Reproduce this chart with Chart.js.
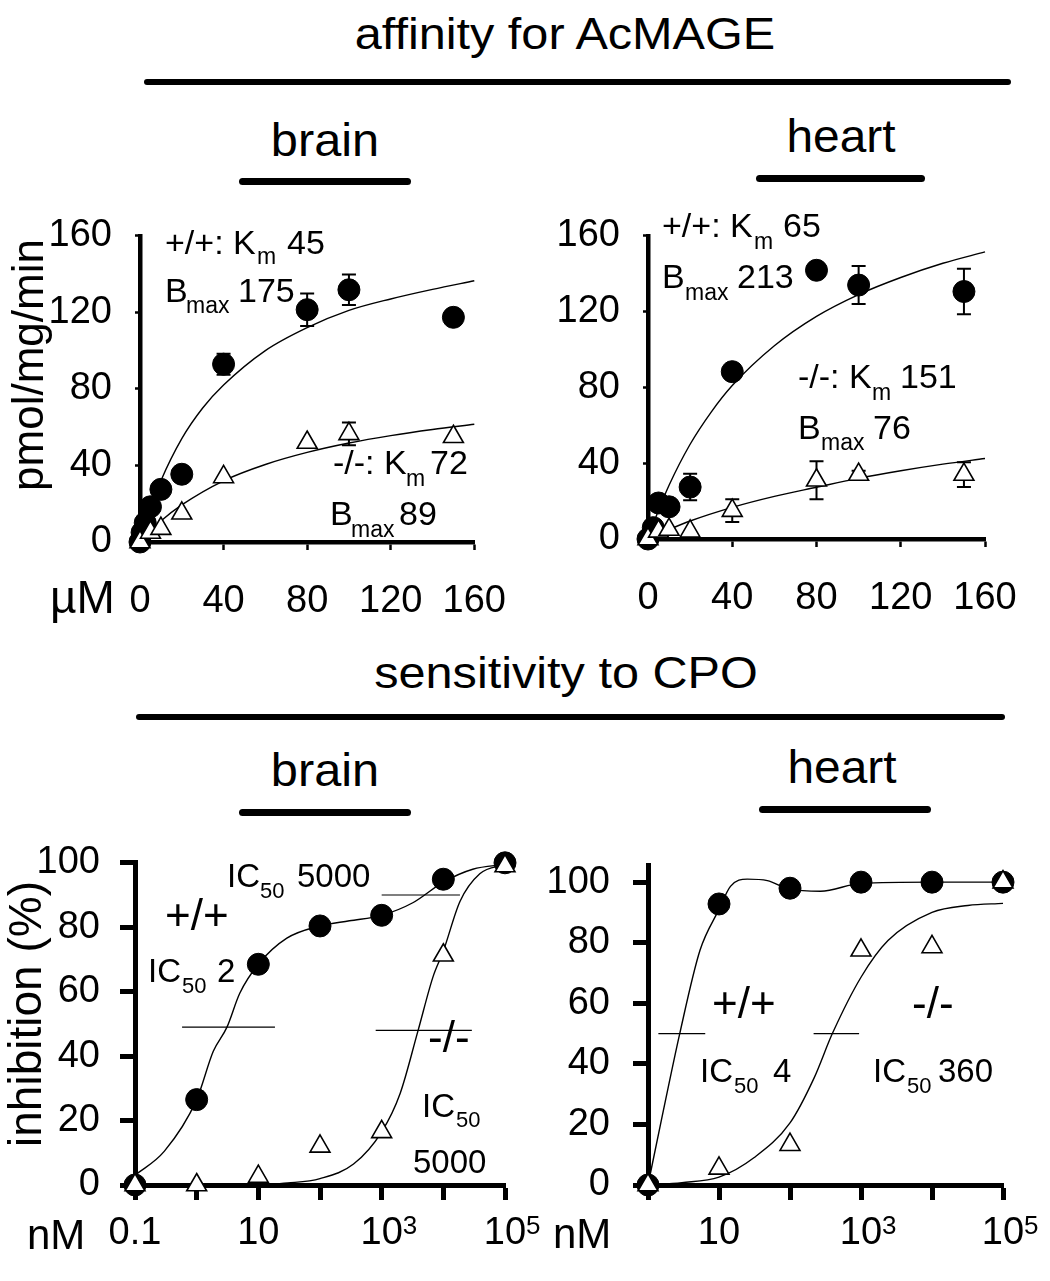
<!DOCTYPE html>
<html><head><meta charset="utf-8">
<script src="https://cdn.jsdelivr.net/npm/chart.js@4.4.1/dist/chart.umd.min.js"></script>
<style>
html,body{margin:0;padding:0;background:#fff;}
body{width:1050px;height:1281px;position:relative;overflow:hidden;font-family:'Liberation Sans',Arial,sans-serif;color:#000}
.h{position:absolute;width:600px;text-align:center;white-space:nowrap;line-height:1;transform-origin:50% 50%;}
.rule{position:absolute;background:#000;border-radius:4px;}
canvas{position:absolute;}
</style></head><body>
<script>
// ================= DATA =================
// axis ticks
const uM_ticks = [0, 40, 80, 120, 160];
const rate_ticks = [0, 40, 80, 120, 160];
const pct_ticks = [0, 20, 40, 60, 80, 100];
const nM_ticks_brain = [0.1, 1, 10, 100, 1000, 10000, 100000];
const nM_labels_brain = ['0.1', '', '10', '', '10', '', '10'];
const nM_sup_brain    = ['', '', '', '', '3', '', '5'];
const nM_ticks_heart = [1, 10, 100, 1000, 10000, 100000];
const nM_labels_heart = ['', '10', '', '10', '', '10'];
const nM_sup_heart    = ['', '', '', '3', '', '5'];

// affinity for AcMAGE - brain (µM, pmol/mg/min)
const brainWT_x   = [0, 1, 2.5, 5, 10, 20, 40, 80, 100, 150];
const brainWT_y   = [0, 5, 10, 18.4, 27.5, 35.4, 92.9, 121.4, 131.8, 117.4];
const brainWT_err = [0, 0, 0, 0, 0, 0, 5.5, 8.5, 8, 0];
const brainKO_x   = [0, 5, 10, 20, 40, 80, 100, 150];
const brainKO_y   = [0, 5, 7, 15, 34, 52, 56.5, 55];
const brainKO_err = [0, 0, 0, 0, 0, 0, 6, 0];
const brainWT_fitX = [0, 2.5, 5, 10, 20, 30, 40, 60, 80, 100, 120, 140, 160];
const brainWT_fitY = [0, 9.2, 17.5, 32, 54, 70, 82, 100, 112, 121, 127, 132, 136.5];
const brainKO_fitX = [0, 5, 10, 20, 40, 60, 80, 100, 120, 140, 160];
const brainKO_fitY = [0, 5.8, 11, 19.4, 32, 40.5, 46.8, 51.7, 55.6, 58.8, 61.5];

// affinity for AcMAGE - heart
const heartWT_x   = [0, 2.5, 5, 10, 20, 40, 80, 100, 150];
const heartWT_y   = [0, 6, 19, 17, 27.4, 88.3, 141.8, 134, 130.6];
const heartWT_err = [0, 0, 0, 0, 7, 0, 0, 10, 12];
const heartKO_x   = [0, 5, 10, 20, 40, 80, 100, 150];
const heartKO_y   = [0, 4, 5, 4, 15, 31, 34, 34];
const heartKO_err = [0, 0, 0, 0, 6, 10, 2, 6.5];
const heartWT_fitX = [0, 2.5, 5, 10, 20, 30, 40, 60, 80, 100, 120, 140, 160];
const heartWT_fitY = [0, 7.9, 15.2, 28.4, 50, 67, 81, 102, 117.5, 129, 138, 145.5, 151.5];
const heartKO_fitX = [0, 10, 20, 40, 60, 80, 100, 120, 140, 160];
const heartKO_fitY = [0, 5, 9.5, 16.7, 22.5, 27.3, 32, 36, 39.5, 42.5];

// sensitivity to CPO - brain (nM, inhibition %)
const cpoBrain_x  = [0.1, 1, 10, 100, 1000, 10000, 100000];
const cpoBrainWT  = [0, 26.5, 68.5, 80.4, 83.7, 94.9, 100];
const cpoBrainKO  = [0, 0, 2.6, 12, 16.5, 71.3, 99];
const cpoBrainWT_fitX = [0.1, 0.3, 1, 1.86, 3.1, 5, 10, 29, 100, 300, 1000, 3200, 10000, 30000, 100000];
const cpoBrainWT_fitY = [3, 10.5, 26.5, 41.5, 49, 59.5, 68.5, 76.6, 80.4, 82, 83.7, 87.6, 94, 98, 99.5];
const cpoBrainKO_fitX = [10, 30, 100, 350, 1000, 2000, 3900, 6800, 10000, 18600, 39000, 100000];
const cpoBrainKO_fitY = [0, 0.6, 2, 6.5, 16.5, 28.5, 48, 64.6, 72.6, 88, 96.6, 99.5];
const cpoBrainIC_WT  = {x: [0.58, 18.6], y: [49, 49]};
const cpoBrainIC_WT2 = {x: [1000, 18600], y: [90, 90]};
const cpoBrainIC_KO  = {x: [800, 29000], y: [48, 48]};

// sensitivity to CPO - heart
const cpoHeart_x  = [1, 10, 100, 1000, 10000, 100000];
const cpoHeartWT  = [0, 92.8, 98, 100, 100, 100];
const cpoHeartKO  = [0, 5.5, 13.3, 77.5, 78.6, 100];
const cpoHeartWT_fitX = [1, 1.5, 2.8, 5.4, 10, 14.5, 25, 48, 100, 270, 1000, 10000, 100000];
const cpoHeartWT_fitY = [0, 20, 50, 77.5, 91, 98.6, 101, 100.5, 97.6, 97, 99.6, 100, 100];
const cpoHeartKO_fitX = [1, 3, 10, 31, 100, 218, 395, 1000, 2400, 10000, 32000, 100000];
const cpoHeartKO_fitY = [0, 0.8, 2.6, 9, 20.5, 35.3, 50, 68.6, 80.7, 90, 92.3, 93];
const cpoHeartIC_WT = {x: [1.4, 6.4], y: [50, 50]};
const cpoHeartIC_KO = {x: [215, 940], y: [50, 50]};

// ================= TEXT =================
const headingTexts = ['affinity for AcMAGE', 'brain', 'heart', 'sensitivity to CPO', 'brain', 'heart'];

// ================= LAYOUT / STYLE =================
const FAM = "'Liberation Sans', Arial, Helvetica, sans-serif";
const headingLayout = [
  {cx: 565, base: 49, fs: 45, sx: 1.08},
  {cx: 325, base: 156, fs: 46, sx: 1.06},
  {cx: 841, base: 152, fs: 46, sx: 1.04},
  {cx: 566, base: 688, fs: 45, sx: 1.08},
  {cx: 325, base: 786, fs: 46, sx: 1.06},
  {cx: 842, base: 783, fs: 46, sx: 1.04}
];
const rules = [
  {x1: 144, x2: 1011, y: 82, w: 6},
  {x1: 239, x2: 411, y: 181, w: 7},
  {x1: 756, x2: 925, y: 178, w: 7},
  {x1: 136, x2: 1005, y: 717, w: 6},
  {x1: 239, x2: 411, y: 812, w: 7},
  {x1: 759, x2: 931, y: 809, w: 7}
];
headingTexts.forEach((t, i) => {
  const L = headingLayout[i];
  const d = document.createElement('div');
  d.className = 'h';
  d.textContent = t;
  d.style.fontSize = L.fs + 'px';
  d.style.left = (L.cx - 300) + 'px';
  d.style.top = (L.base - 0.8465 * L.fs) + 'px';
  d.style.transform = 'scaleX(' + L.sx + ')';
  document.body.appendChild(d);
});
rules.forEach(r => {
  const d = document.createElement('div');
  d.className = 'rule';
  d.style.left = r.x1 + 'px';
  d.style.width = (r.x2 - r.x1) + 'px';
  d.style.top = (r.y - r.w / 2) + 'px';
  d.style.height = r.w + 'px';
  document.body.appendChild(d);
});

// annotation text segments: [text, pageX, pageBaselineY, fontSize, rotated]
const ann1 = [
  ['+/+: K', 165, 254, 34], ['m', 257, 264, 23], ['45', 287, 254, 34],
  ['B', 165, 302, 34], ['max', 186, 313, 23], ['175', 238, 302, 34],
  ['-/-: K', 333, 474, 34], ['m', 406, 486, 23], ['72', 430, 474, 34],
  ['B', 330, 525, 34], ['max', 351, 537, 23], ['89', 399, 525, 34],
  ['µM', 50, 613, 46], ['pmol/mg/min', 43, 365, 44, 1]
];
const ann2 = [
  ['+/+: K', 662, 237, 34], ['m', 754, 249, 23], ['65', 783, 237, 34],
  ['B', 662, 288, 34], ['max', 685, 300, 23], ['213', 737, 288, 34],
  ['-/-: K', 798, 388, 34], ['m', 872, 400, 23], ['151', 900, 388, 34],
  ['B', 798, 439, 34], ['max', 821, 450, 23], ['76', 873, 439, 34]
];
const ann3 = [
  ['IC', 227, 887, 33], ['50', 260, 898, 22], ['5000', 297, 887, 33],
  ['+/+', 165, 930, 44],
  ['IC', 148, 982, 33], ['50', 182, 993, 22], ['2', 217, 982, 33],
  ['-/-', 428, 1052, 44],
  ['IC', 422, 1117, 33], ['50', 456, 1127, 22],
  ['5000', 413, 1173, 33],
  ['nM', 27, 1249, 42], ['inhibition (%)', 41, 1014, 46, 1]
];
const ann4 = [
  ['+/+', 712, 1018, 44], ['-/-', 912, 1018, 44],
  ['IC', 700, 1082, 33], ['50', 734, 1093, 22], ['4', 773, 1082, 33],
  ['IC', 873, 1082, 33], ['50', 907, 1093, 22], ['360', 938, 1082, 33],
  ['nM', 553, 1248, 42]
];

// ================= HELPERS =================
const pts = (xs, ys) => xs.map((x, i) => ({x: x, y: ys[i]}));

function markers(xs, ys, errs, tri) {
  return {
    data: pts(xs, ys), errors: errs, showLine: false, clip: false,
    pointStyle: tri ? 'triangle' : 'circle',
    pointRadius: tri ? 11.5 : 11, pointHoverRadius: tri ? 11.5 : 11,
    pointBackgroundColor: tri ? '#fff' : '#000', pointBorderColor: '#000',
    pointBorderWidth: tri ? 1.6 : 1, order: tri ? 0 : 1
  };
}
function curve(xs, ys) {
  return {data: pts(xs, ys), showLine: true, pointRadius: 0, borderColor: '#000',
    borderWidth: 1.4, cubicInterpolationMode: 'monotone', clip: false, order: 2};
}
function icline(o) {
  return {data: pts(o.x, o.y), showLine: true, pointRadius: 0, borderColor: '#000',
    borderWidth: 1.2, clip: false, order: 3};
}

const errPlugin = {
  id: 'errbars',
  beforeDatasetsDraw(chart) {
    const ctx = chart.ctx, xs = chart.scales.x, ys = chart.scales.y;
    ctx.save();
    ctx.strokeStyle = '#000'; ctx.lineWidth = 2;
    chart.data.datasets.forEach(ds => {
      if (!ds.errors) return;
      ds.data.forEach((p, j) => {
        const e = ds.errors[j];
        if (!e) return;
        const px = xs.getPixelForValue(p.x);
        const t = ys.getPixelForValue(p.y + e), b = ys.getPixelForValue(p.y - e);
        ctx.beginPath();
        ctx.moveTo(px, t); ctx.lineTo(px, b);
        ctx.moveTo(px - 7, t); ctx.lineTo(px + 7, t);
        ctx.moveTo(px - 7, b); ctx.lineTo(px + 7, b);
        ctx.stroke();
      });
    });
    ctx.restore();
  }
};

function textPlugin(segs, box, sup) {
  return {
    id: 'txt',
    afterDraw(chart) {
      const ctx = chart.ctx;
      segs.forEach(s => {
        const [t, x, y, fs, rot] = s;
        ctx.save();
        ctx.fillStyle = '#000';
        ctx.font = fs + 'px ' + FAM;
        ctx.textBaseline = 'alphabetic';
        ctx.translate(x - box.x, y - box.y);
        if (rot) { ctx.rotate(-Math.PI / 2); ctx.textAlign = 'center'; }
        else { ctx.textAlign = 'left'; }
        ctx.fillText(t, 0, 0);
        ctx.restore();
      });
      // superscripts of the decade tick labels
      if (sup) {
        const xs = chart.scales.x;
        ctx.save();
        ctx.fillStyle = '#000';
        ctx.font = '26px ' + FAM;
        ctx.textAlign = 'left'; ctx.textBaseline = 'alphabetic';
        xs.ticks.forEach((tk, i) => {
          if (!sup[i]) return;
          const px = xs.getPixelForValue(tk.value);
          ctx.fillText(sup[i], px + 21, 1234 - box.y);
        });
        ctx.restore();
      }
    }
  };
}

function panel(box, area, datasets, xopt, yopt, segs, sup) {
  const c = document.createElement('canvas');
  c.width = box.w; c.height = box.h;
  c.style.left = box.x + 'px'; c.style.top = box.y + 'px';
  document.body.appendChild(c);
  const yW = area.l - box.x - 4, xH = box.y + box.h - area.b - 4;
  new Chart(c, {
    type: 'scatter',
    data: {datasets: datasets},
    options: {
      responsive: false, animation: false, events: [],
      layout: {padding: {left: 4, bottom: 4, top: area.t - box.y, right: box.x + box.w - area.r}},
      plugins: {legend: {display: false}, tooltip: {enabled: false}},
      scales: {
        x: Object.assign({afterFit(s) { s.height = xH; }}, xopt),
        y: Object.assign({afterFit(s) { s.width = yW; }}, yopt)
      }
    },
    plugins: [errPlugin, textPlugin(segs, box, sup)]
  });
}

function linAxis(min, max, ticks, tl, tw, pad, bw) {
  return {
    type: 'linear', min: min, max: max,
    afterBuildTicks(s) { s.ticks = ticks.map(v => ({value: v})); },
    border: {display: true, color: '#000', width: bw},
    grid: {display: true, drawOnChartArea: false, drawTicks: true, tickLength: tl, tickWidth: tw, tickColor: '#000'},
    ticks: {color: '#000', font: {family: FAM, size: 38}, padding: pad, maxRotation: 0,
      autoSkip: false, callback: v => String(v)}
  };
}
function logAxis(min, max, ticks, labels, tl, tw, pad, bw) {
  return {
    type: 'logarithmic', min: min, max: max,
    afterBuildTicks(s) { s.ticks = ticks.map(v => ({value: v})); },
    border: {display: true, color: '#000', width: bw},
    grid: {display: true, drawOnChartArea: false, drawTicks: true, tickLength: tl, tickWidth: tw, tickColor: '#000'},
    ticks: {color: '#000', font: {family: FAM, size: 38}, padding: pad, maxRotation: 0, autoSkip: false,
      callback: (v, i) => labels[i]}
  };
}

// ================= PANELS =================
// brain affinity
panel({x: 0, y: 190, w: 535, h: 440}, {l: 140, r: 498, t: 220, b: 542},
  [markers(brainKO_x, brainKO_y, brainKO_err, true), markers(brainWT_x, brainWT_y, brainWT_err, false),
   curve(brainWT_fitX, brainWT_fitY), curve(brainKO_fitX, brainKO_fitY)],
  linAxis(0, 160, uM_ticks, 8, 2.5, 29, 4.5),
  linAxis(0, 160, rate_ticks, 5, 2.5, 23, 4.5),
  ann1);

// heart affinity
panel({x: 535, y: 190, w: 515, h: 440}, {l: 648, r: 985, t: 230, b: 539},
  [markers(heartKO_x, heartKO_y, heartKO_err, true), markers(heartWT_x, heartWT_y, heartWT_err, false),
   curve(heartWT_fitX, heartWT_fitY), curve(heartKO_fitX, heartKO_fitY)],
  linAxis(0, 160, uM_ticks, 8, 2.5, 29, 4.5),
  linAxis(0, 160, rate_ticks, 5, 2.5, 23, 4.5),
  ann2);

// brain CPO
panel({x: 0, y: 820, w: 545, h: 461}, {l: 135, r: 505, t: 852, b: 1185},
  [markers(cpoBrain_x, cpoBrainKO, null, true), markers(cpoBrain_x, cpoBrainWT, null, false),
   curve(cpoBrainWT_fitX, cpoBrainWT_fitY), curve(cpoBrainKO_fitX, cpoBrainKO_fitY),
   icline(cpoBrainIC_WT), icline(cpoBrainIC_WT2), icline(cpoBrainIC_KO)],
  logAxis(0.1, 100000, nM_ticks_brain, nM_labels_brain, 15, 5, 11, 5),
  linAxis(0, 100, pct_ticks, 15, 5, 20, 5),
  ann3, nM_sup_brain);

// heart CPO
panel({x: 545, y: 820, w: 505, h: 461}, {l: 648, r: 1003, t: 852, b: 1185},
  [markers(cpoHeart_x, cpoHeartKO, null, true), markers(cpoHeart_x, cpoHeartWT, null, false),
   curve(cpoHeartWT_fitX, cpoHeartWT_fitY), curve(cpoHeartKO_fitX, cpoHeartKO_fitY),
   icline(cpoHeartIC_WT), icline(cpoHeartIC_KO)],
  logAxis(1, 100000, nM_ticks_heart, nM_labels_heart, 15, 5, 11, 5),
  linAxis(0, 105.4, pct_ticks, 15, 5, 23, 5),
  ann4, nM_sup_heart);
</script>
</body></html>
